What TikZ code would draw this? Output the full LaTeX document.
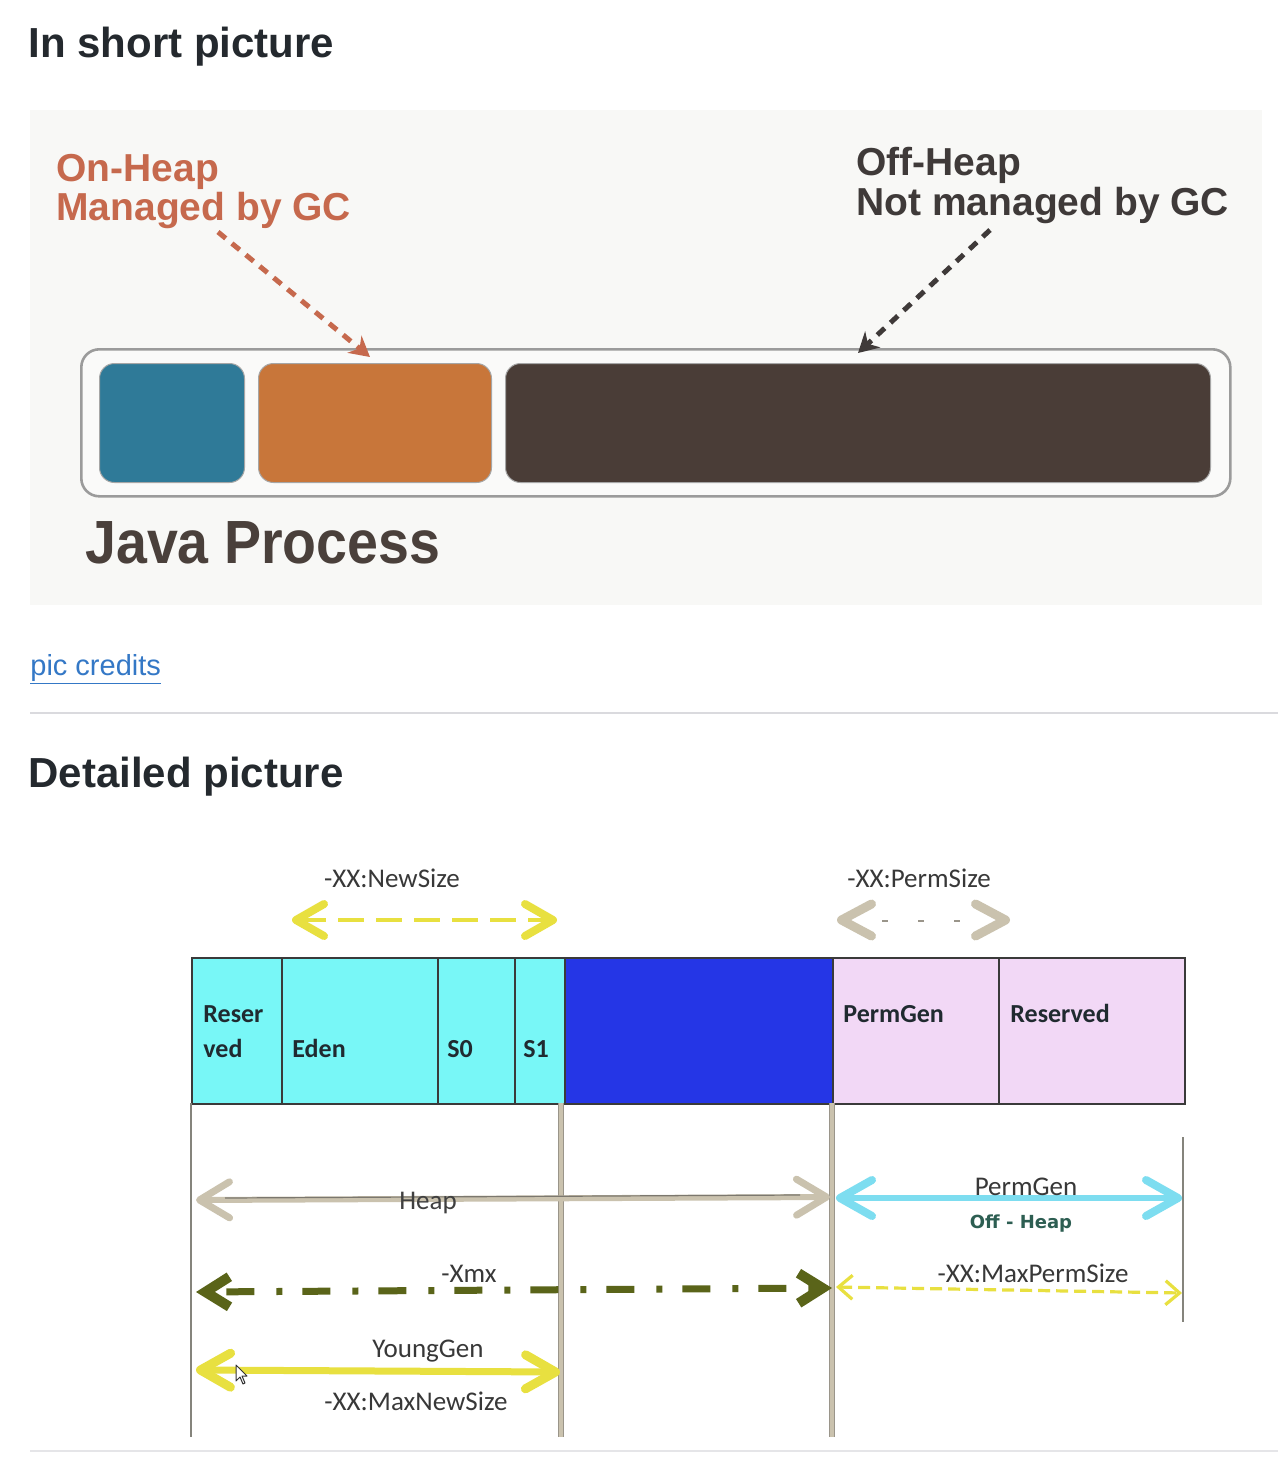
\documentclass[tikz,border=0pt]{standalone}
\usepackage{fontspec}
\usepackage{graphicx}
\setmainfont{Liberation Sans}
\newfontfamily\calfont{Carlito}
\newfontfamily\dvfont{DejaVu Sans}
\usetikzlibrary{arrows.meta}
\definecolor{headc}{HTML}{24292E}
\definecolor{panelc}{HTML}{F8F8F6}
\definecolor{procc}{HTML}{FAFAF9}
\definecolor{procstroke}{HTML}{9B9B9B}
\definecolor{jblue}{HTML}{2F7A98}
\definecolor{jorange}{HTML}{C8763A}
\definecolor{jdark}{HTML}{4A3D37}
\definecolor{onc}{HTML}{C6694D}
\definecolor{offc}{HTML}{3F3A39}
\definecolor{javac}{HTML}{4A403B}
\definecolor{linkc}{HTML}{3478C6}
\definecolor{rulec}{HTML}{DADADE}
\definecolor{segcyan}{HTML}{78F7F7}
\definecolor{segblue}{HTML}{2536E6}
\definecolor{segpink}{HTML}{F2D8F6}
\definecolor{segline}{HTML}{3A3A3A}
\definecolor{segtext}{HTML}{202A30}
\definecolor{labc}{HTML}{383838}
\definecolor{yelc}{HTML}{E8E040}
\definecolor{beigec}{HTML}{CAC2AE}
\definecolor{beigedk}{HTML}{9A958A}
\definecolor{cyanc}{HTML}{7DDDF0}
\definecolor{olivec}{HTML}{5A6419}
\definecolor{tealc}{HTML}{2D5E52}
\definecolor{vthin}{HTML}{85847C}
\tikzset{
  heading/.style={anchor=base west, inner sep=0pt, text=headc, font=\fontsize{21}{25}\selectfont\bfseries},
  bigtxt/.style={anchor=base west, inner sep=0pt, font=\fontsize{19.5}{23}\selectfont\bfseries},
  membox/.style={anchor=north west, inner sep=0pt, rounded corners=7.5pt, minimum height=59.5pt, draw=black!35, line width=0.5pt},
  seg/.style={anchor=north west, inner sep=0pt, minimum height=73pt, draw=segline, line width=1pt},
  segtxt/.style={anchor=base west, inner sep=0pt, text=segtext, font=\calfont\fontsize{13}{15}\selectfont\bfseries},
  lab/.style={anchor=base, inner sep=0pt, text=labc, font=\calfont\fontsize{13.5}{16}\selectfont},
  onarrow/.style={draw=onc, line width=2.5pt, dash pattern=on 5pt off 4pt, -{Stealth[length=10pt,width=11pt]}},
  offarrow/.style={draw=offc, line width=2.5pt, dash pattern=on 5pt off 4pt, -{Stealth[length=10pt,width=11pt]}},
  newsizearrow/.style={draw=yelc, line width=2pt, dash pattern=on 13pt off 6pt,
     {Straight Barb[length=14pt,width=16pt,line width=4pt,round]}-{Straight Barb[length=14pt,width=16pt,line width=4pt,round]}},
  permsizearrow/.style={draw=white, line width=0.1pt,
     {Straight Barb[length=15pt,width=16pt,line width=4.5pt,round,color=beigec]}-{Straight Barb[length=15pt,width=16pt,line width=4.5pt,round,color=beigec]}},
  tinydash/.style={draw=beigedk, line width=1pt, dash pattern=on 3pt off 15pt},
  heaparrow/.style={draw=beigec, line width=3pt,
     {Straight Barb[length=15pt,width=18pt,line width=3.5pt,round]}-{Straight Barb[length=15pt,width=18pt,line width=3.5pt,round]}},
  cyanarrow/.style={draw=cyanc, line width=3pt,
     {Straight Barb[length=16pt,width=18pt,line width=4pt,round]}-{Straight Barb[length=16pt,width=18pt,line width=4pt,round]}},
  xmxarrow/.style={draw=olivec, line width=3.5pt, dash pattern=on 14pt off 11pt on 3pt off 10pt, dash phase=-8pt,
     {Straight Barb[length=12pt,width=15pt,line width=5pt]}-{Straight Barb[length=12pt,width=15pt,line width=5pt]}},
  maxpermarrow/.style={draw=yelc, line width=1.6pt, dash pattern=on 6pt off 3pt,
     {Straight Barb[length=7pt,width=12pt,line width=1.6pt]}-{Straight Barb[length=7pt,width=12pt,line width=1.6pt]}},
  youngarrow/.style={draw=yelc, line width=3.5pt,
     {Straight Barb[length=15pt,width=17pt,line width=4.5pt,round]}-{Straight Barb[length=15pt,width=17pt,line width=4.5pt,round]}},
  thickv/.style={draw=beigedk, line width=3pt},
  thickvin/.style={draw=beigec, line width=1.8pt},
  thinv/.style={draw=vthin, line width=1.2pt},
}
\begin{document}
\begin{tikzpicture}[x=0.5pt,y=-0.5pt]
\useasboundingbox[fill=white] (0,0) rectangle (1278,1478);

% ---------- headings
\node[heading] (h1) at (28,57) {In short picture};
\node[heading] (h2) at (28,787) {Detailed picture};

% ---------- short picture panel
\fill[panelc] (30,110) rectangle (1262,605);
\node[anchor=north west, inner sep=0pt, minimum width=574.5pt, minimum height=73.5pt, rounded corners=9pt,
      draw=procstroke, fill=procc, line width=1.3pt] (proc) at (80,348) {};
\node[membox, fill=jblue, minimum width=72.5pt] (bluebox) at (99,363) {};
\node[membox, fill=jorange, minimum width=116.5pt] (orangebox) at (258,363) {};
\node[membox, fill=jdark, minimum width=352.5pt] (darkbox) at (505,363) {};

\node[bigtxt, text=onc] (on1) at (56,181) {On-Heap};
\node[bigtxt, text=onc] (on2) at (56,220) {Managed by GC};
\node[bigtxt, text=offc] (off1) at (856,175) {Off-Heap};
\node[bigtxt, text=offc] (off2) at (856,215) {Not managed by GC};
\node[anchor=base west, inner sep=0pt, text=javac, font=\fontsize{30.5}{34}\selectfont\bfseries] (java) at (85,563) {\scalebox{0.91}[1]{Java Process}};

\coordinate (onstart) at (218,232);
\coordinate (ontip) at (370,357);
\coordinate (offstart) at (990,230);
\coordinate (offtip) at (858,353);
\draw[onarrow] (onstart) -- (ontip);
\draw[offarrow] (offstart) -- (offtip);

% ---------- link and rule
\node[anchor=base west, inner sep=0pt, text=linkc, font=\fontsize{14.5}{17}\selectfont] (credits) at (30,675) {\underline{pic credits}};
\coordinate (ruleL) at (30,713);
\coordinate (ruleR) at (1278,713);
\draw[rulec, line width=1pt] (ruleL) -- (ruleR);
\coordinate (rule2L) at (30,1451);
\coordinate (rule2R) at (1278,1451);
\draw[rulec!70, line width=1pt] (rule2L) -- (rule2R);

% ---------- detailed picture: memory bar
\node[seg, fill=segcyan, minimum width=45pt] (sres) at (191,957) {};
\node[seg, fill=segcyan, minimum width=78pt] (seden) at (281,957) {};
\node[seg, fill=segcyan, minimum width=38.5pt] (ss0) at (437,957) {};
\node[seg, fill=segcyan, minimum width=25pt] (ss1) at (514,957) {};
\node[seg, fill=segblue, minimum width=134pt] (sblue) at (564,957) {};
\node[seg, fill=segpink, minimum width=83pt] (sperm) at (832,957) {};
\node[seg, fill=segpink, minimum width=93pt] (sres2) at (998,957) {};

\node[segtxt] (tres1) at (203,1022) {Reser};
\node[segtxt] (tres2) at (203,1057) {ved};
\node[segtxt] (teden) at (292,1057) {Eden};
\node[segtxt] (ts0) at (447,1057) {S0};
\node[segtxt] (ts1) at (523,1057) {S1};
\node[segtxt] (tperm) at (843,1022) {PermGen};
\node[segtxt] (tres3) at (1010,1022) {Reserved};

% ---------- vertical guide lines
\coordinate (v1t) at (191,1103); \coordinate (v1b) at (191,1437);
\coordinate (v2t) at (561,1103); \coordinate (v2b) at (561,1437);
\coordinate (v3t) at (832,1103); \coordinate (v3b) at (832,1437);
\coordinate (v4t) at (1183,1137); \coordinate (v4b) at (1183,1322);
\draw[thinv] (v1t) -- (v1b);
\draw[thickv] (v2t) -- (v2b);
\draw[thickvin] (v2t) -- (v2b);
\draw[thickv] (v3t) -- (v3b);
\draw[thickvin] (v3t) -- (v3b);
\draw[thinv] (v4t) -- (v4b);

% ---------- top arrows
\node[lab] (lnew) at (392,887) {-XX:NewSize};
\coordinate (nsL) at (292,920);
\coordinate (nsR) at (557,920);
\draw[newsizearrow] (nsL) -- (nsR);

\node[lab] (lperm) at (919,887) {-XX:PermSize};
\coordinate (psL) at (837,920);
\coordinate (psR) at (1010,920);
\draw[permsizearrow] (psL) -- (psR);
\coordinate (pdL) at (882,921);
\coordinate (pdR) at (966,921);
\draw[tinydash] (pdL) -- (pdR);

% ---------- horizontal arrows
\coordinate (hpL) at (196,1200);
\coordinate (hpR) at (830,1197);
\draw[heaparrow] (hpL) -- (hpR);
\coordinate (hpL2) at (225,1198);
\coordinate (hpR2) at (800,1195);
\draw[draw=beigedk!80!black, line width=0.6pt] (hpL2) -- (hpR2);
\node[lab, text=black!75] (lheap) at (428,1209) {Heap};

\coordinate (pgL) at (836,1198);
\coordinate (pgR) at (1182,1198);
\draw[cyanarrow] (pgL) -- (pgR);
\node[lab] (lpg) at (1026,1195) {PermGen};
\node[anchor=base, inner sep=0pt, text=tealc, font=\dvfont\fontsize{9}{11}\selectfont\bfseries] (loff) at (1021,1228) {Off - Heap};

\coordinate (xL) at (196,1292);
\coordinate (xR) at (832,1288);
\draw[xmxarrow] (xL) -- (xR);
\node[lab] (lxmx) at (469,1282) {-Xmx};

\coordinate (mpL) at (836,1287);
\coordinate (mpR) at (1182,1293);
\draw[maxpermarrow] (mpL) -- (mpR);
\node[lab] (lmp) at (1033,1282) {-XX:MaxPermSize};

\coordinate (ygL) at (196,1370);
\coordinate (ygR) at (560,1372);
\draw[youngarrow] (ygL) -- (ygR);
\node[lab] (lyg) at (428,1357) {YoungGen};
\node[lab] (lmns) at (416,1410) {-XX:MaxNewSize};

% mouse pointer
\draw[fill=white, draw=black!80, line width=0.5pt, line join=round]
  (236,1365) -- (236,1381) -- (240,1377) -- (243,1384) -- (245,1383) -- (242,1376) -- (247,1376) -- cycle;
\end{tikzpicture}
\end{document}
